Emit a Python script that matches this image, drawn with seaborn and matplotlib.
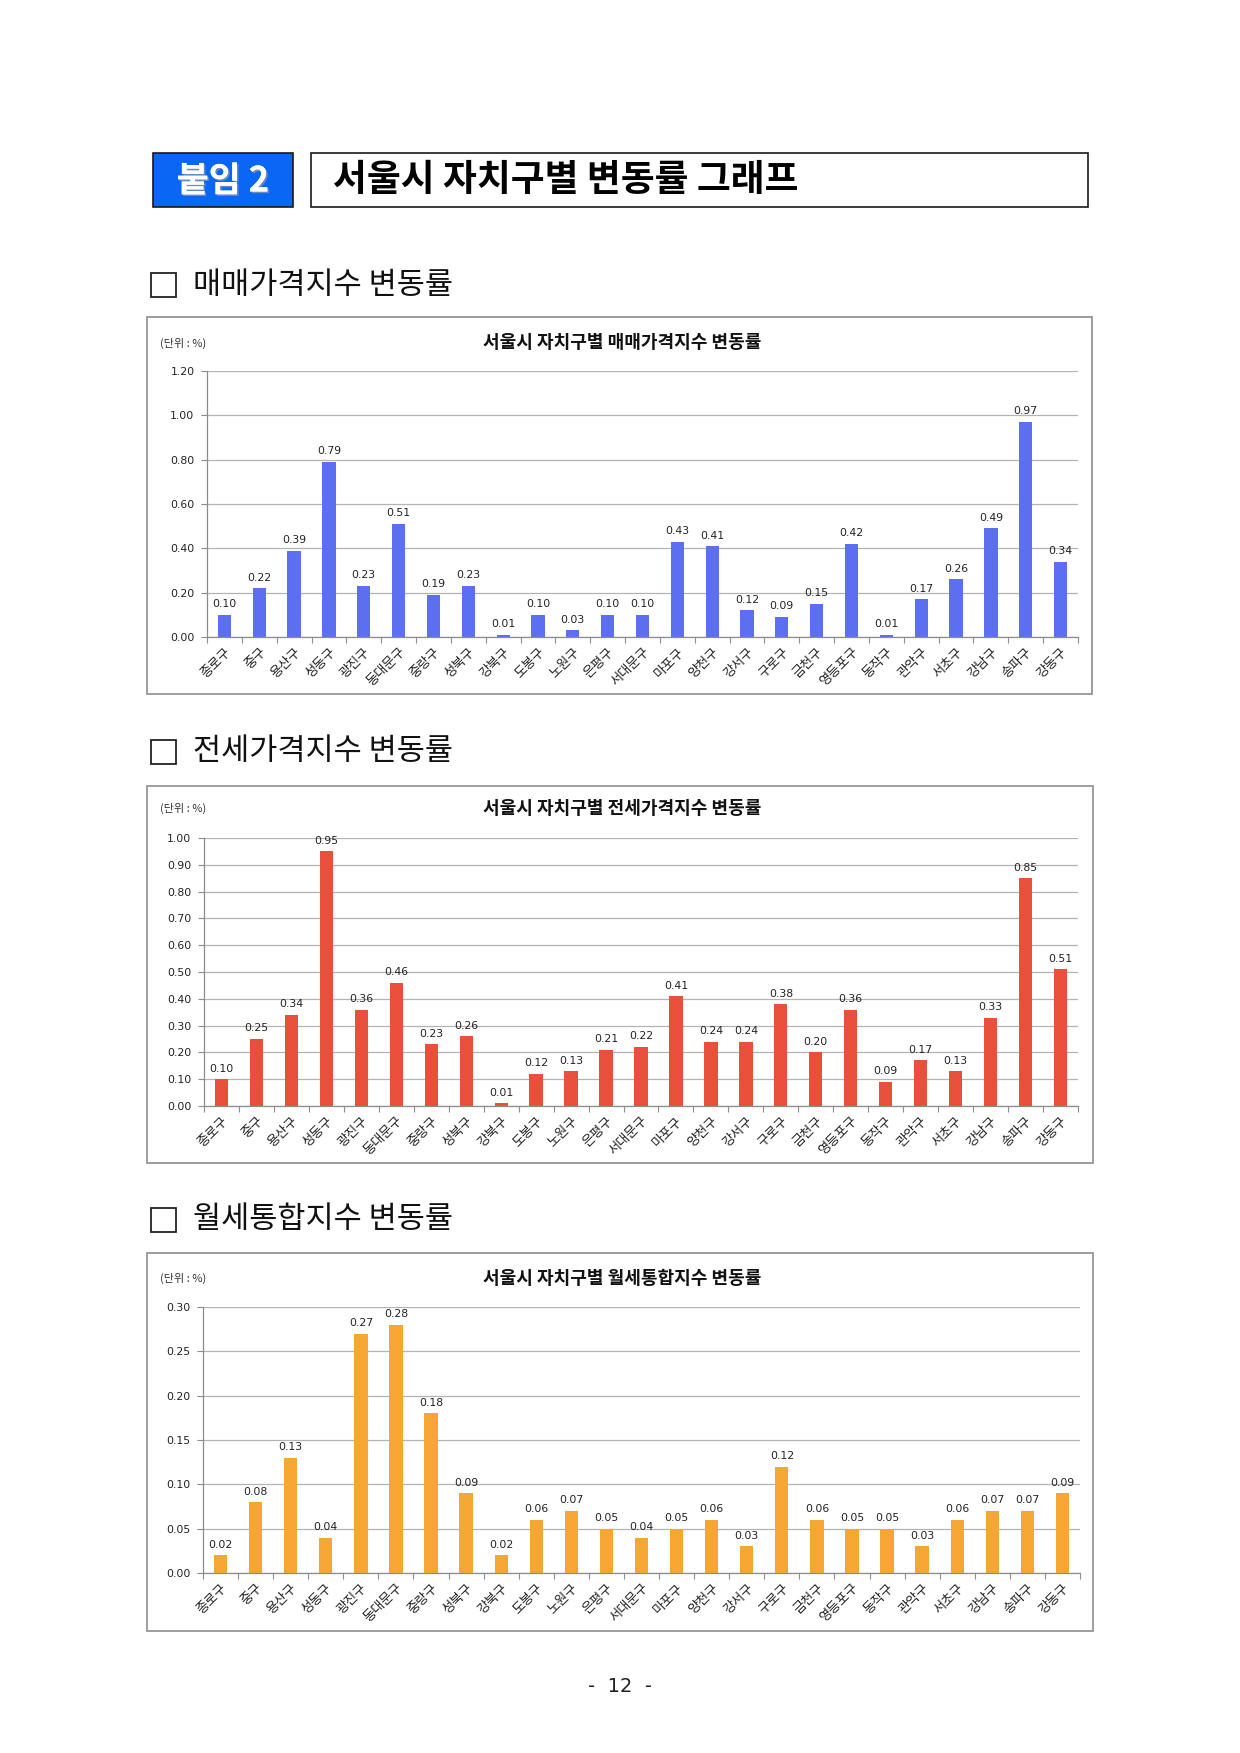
import numpy as np
import pandas as pd
import matplotlib
matplotlib.use("Agg")
import matplotlib.pyplot as plt
import matplotlib.patches as mpatches
import matplotlib.patheffects as pe
from matplotlib.ticker import FixedLocator, NullFormatter
import seaborn as sns

plt.rcParams['font.family'] = ['Noto Sans CJK KR', 'DejaVu Sans']

# ---------------- data ----------------
districts = ["종로구", "중구", "용산구", "성동구", "광진구", "동대문구", "중랑구", "성북구",
             "강북구", "도봉구", "노원구", "은평구", "서대문구", "마포구", "양천구", "강서구",
             "구로구", "금천구", "영등포구", "동작구", "관악구", "서초구", "강남구", "송파구", "강동구"]

sale_change = [0.10, 0.22, 0.39, 0.79, 0.23, 0.51, 0.19, 0.23, 0.01, 0.10, 0.03, 0.10, 0.10,
               0.43, 0.41, 0.12, 0.09, 0.15, 0.42, 0.01, 0.17, 0.26, 0.49, 0.97, 0.34]
jeonse_change = [0.10, 0.25, 0.34, 0.95, 0.36, 0.46, 0.23, 0.26, 0.01, 0.12, 0.13, 0.21, 0.22,
                 0.41, 0.24, 0.24, 0.38, 0.20, 0.36, 0.09, 0.17, 0.13, 0.33, 0.85, 0.51]
monthly_change = [0.02, 0.08, 0.13, 0.04, 0.27, 0.28, 0.18, 0.09, 0.02, 0.06, 0.07, 0.05, 0.04,
                  0.05, 0.06, 0.03, 0.12, 0.06, 0.05, 0.05, 0.03, 0.06, 0.07, 0.07, 0.09]

banner_tag = "붙임 2"
banner_title = "서울시 자치구별 변동률 그래프"
section_titles = ["매매가격지수 변동률", "전세가격지수 변동률", "월세통합지수 변동률"]
chart_titles = ["서울시 자치구별 매매가격지수 변동률", "서울시 자치구별 전세가격지수 변동률",
                "서울시 자치구별 월세통합지수 변동률"]
unit_label = "(단위 : %)"
page_label = "-  12  -"

# ---------------- layout helpers ----------------
W, H = 1240, 1753
fig = plt.figure(figsize=(W / 100, H / 100), dpi=100)
fig.patch.set_facecolor("white")


def fx(x):
    return x / W


def fy(y):
    return 1 - y / H


def rect(x0, y0, x1, y1, **kw):
    r = mpatches.Rectangle((fx(x0), fy(y1)), fx(x1) - fx(x0), fy(y0) - fy(y1),
                           transform=fig.transFigure, **kw)
    fig.add_artist(r)
    return r


# ---------------- banner ----------------
rect(153, 153, 293, 207, facecolor="#0a66f5", edgecolor="#1a1a1a", linewidth=1.2, zorder=-2)
fig.text(fx(223), fy(181), banner_tag, color="white", fontsize=25, fontweight="black",
         ha="center", va="center",
         path_effects=[pe.withSimplePatchShadow(offset=(1.2, -1.2), shadow_rgbFace="#6f8fc0", alpha=0.9),
                       pe.Normal()])
rect(311, 153, 1088, 207, facecolor="white", edgecolor="#1a1a1a", linewidth=1.2, zorder=-2)
fig.text(fx(333), fy(181), banner_title, color="black", fontsize=26.5, fontweight="black",
         ha="left", va="center")

# ---------------- charts ----------------
charts = [
    dict(values=sale_change, color="#5b6ff0", ymax=1.20, step=0.20,
         heading_y=285, box=(147, 317, 1092, 694), ax=(207, 371, 1078, 637), title_y=343),
    dict(values=jeonse_change, color="#e8503c", ymax=1.00, step=0.10,
         heading_y=752, box=(147, 786, 1093, 1163), ax=(204, 838, 1078, 1106), title_y=808),
    dict(values=monthly_change, color="#f6a733", ymax=0.30, step=0.05,
         heading_y=1220, box=(147, 1253, 1093, 1631), ax=(203, 1307, 1080, 1573), title_y=1278),
]

for i, c in enumerate(charts):
    # section heading with checkbox
    hy = c["heading_y"]
    rect(151, hy - 12, 176, hy + 12, facecolor="white", edgecolor="#222222", linewidth=1.3,
         zorder=-2)
    fig.text(fx(193), fy(hy), section_titles[i], fontsize=22, ha="left", va="center",
             color="#111111")

    # chart frame
    bx0, by0, bx1, by1 = c["box"]
    rect(bx0, by0, bx1, by1, facecolor="white", edgecolor="#8c8c8c", linewidth=1.2, zorder=-2)

    # chart title and unit
    fig.text(fx(622), fy(c["title_y"]), chart_titles[i], fontsize=13, fontweight="bold",
             ha="center", va="center", color="#111111")
    fig.text(fx(160), fy(c["title_y"]), unit_label, fontsize=8, ha="left", va="center",
             color="#333333")

    ax0, ay0, ax1, ay1 = c["ax"]
    ax = fig.add_axes([fx(ax0), fy(ay1), fx(ax1) - fx(ax0), fy(ay0) - fy(ay1)])
    ax.set_facecolor("none")
    ax.set_zorder(2)

    df = pd.DataFrame({"district": districts, "value": c["values"]})
    sns.barplot(data=df, x="district", y="value", order=districts, color=c["color"],
                saturation=1, width=0.38, linewidth=0, ax=ax, zorder=3)

    labels = [f"{v:.2f}" for v in c["values"]]
    ax.bar_label(ax.containers[0], labels=labels, padding=4, fontsize=7.8,
                 color="#222222", family="DejaVu Sans")

    ax.set_xlim(-0.5, len(districts) - 0.5)
    ax.set_ylim(0, c["ymax"])
    yt = np.round(np.arange(0, c["ymax"] + 1e-9, c["step"]), 2)
    ax.yaxis.set_major_locator(FixedLocator(yt))
    ax.set_yticklabels([f"{t:.2f}" for t in yt], fontsize=7.8, family="DejaVu Sans",
                       color="#222222")
    ax.grid(axis="y", color="#b4b4b4", linewidth=0.9, zorder=0)
    ax.grid(axis="x", visible=False)
    ax.set_axisbelow(True)

    ax.xaxis.set_minor_locator(FixedLocator(np.arange(-0.5, len(districts), 1.0)))
    ax.xaxis.set_minor_formatter(NullFormatter())
    ax.tick_params(axis="x", which="major", length=0, pad=6)
    ax.tick_params(axis="x", which="minor", length=4, width=0.8, color="#8c8c8c",
                   direction="out")
    ax.tick_params(axis="y", which="major", length=4, width=0.8, color="#8c8c8c",
                   direction="out", pad=5)
    for lab in ax.get_xticklabels():
        lab.set_rotation(45)
        lab.set_ha("right")
        lab.set_rotation_mode("anchor")
        lab.set_fontsize(9.5)
        lab.set_color("#222222")

    ax.set_xlabel("")
    ax.set_ylabel("")
    for s in ["top", "right"]:
        ax.spines[s].set_visible(False)
    for s in ["left", "bottom"]:
        ax.spines[s].set_color("#8c8c8c")
        ax.spines[s].set_linewidth(0.9)
        ax.spines[s].set_zorder(4)

# ---------------- page number ----------------
fig.text(fx(620), fy(1686), page_label, fontsize=14, ha="center", va="center",
         color="#222222", family=["DejaVu Sans"])

fig.savefig("out.png", dpi=100, facecolor="white")
